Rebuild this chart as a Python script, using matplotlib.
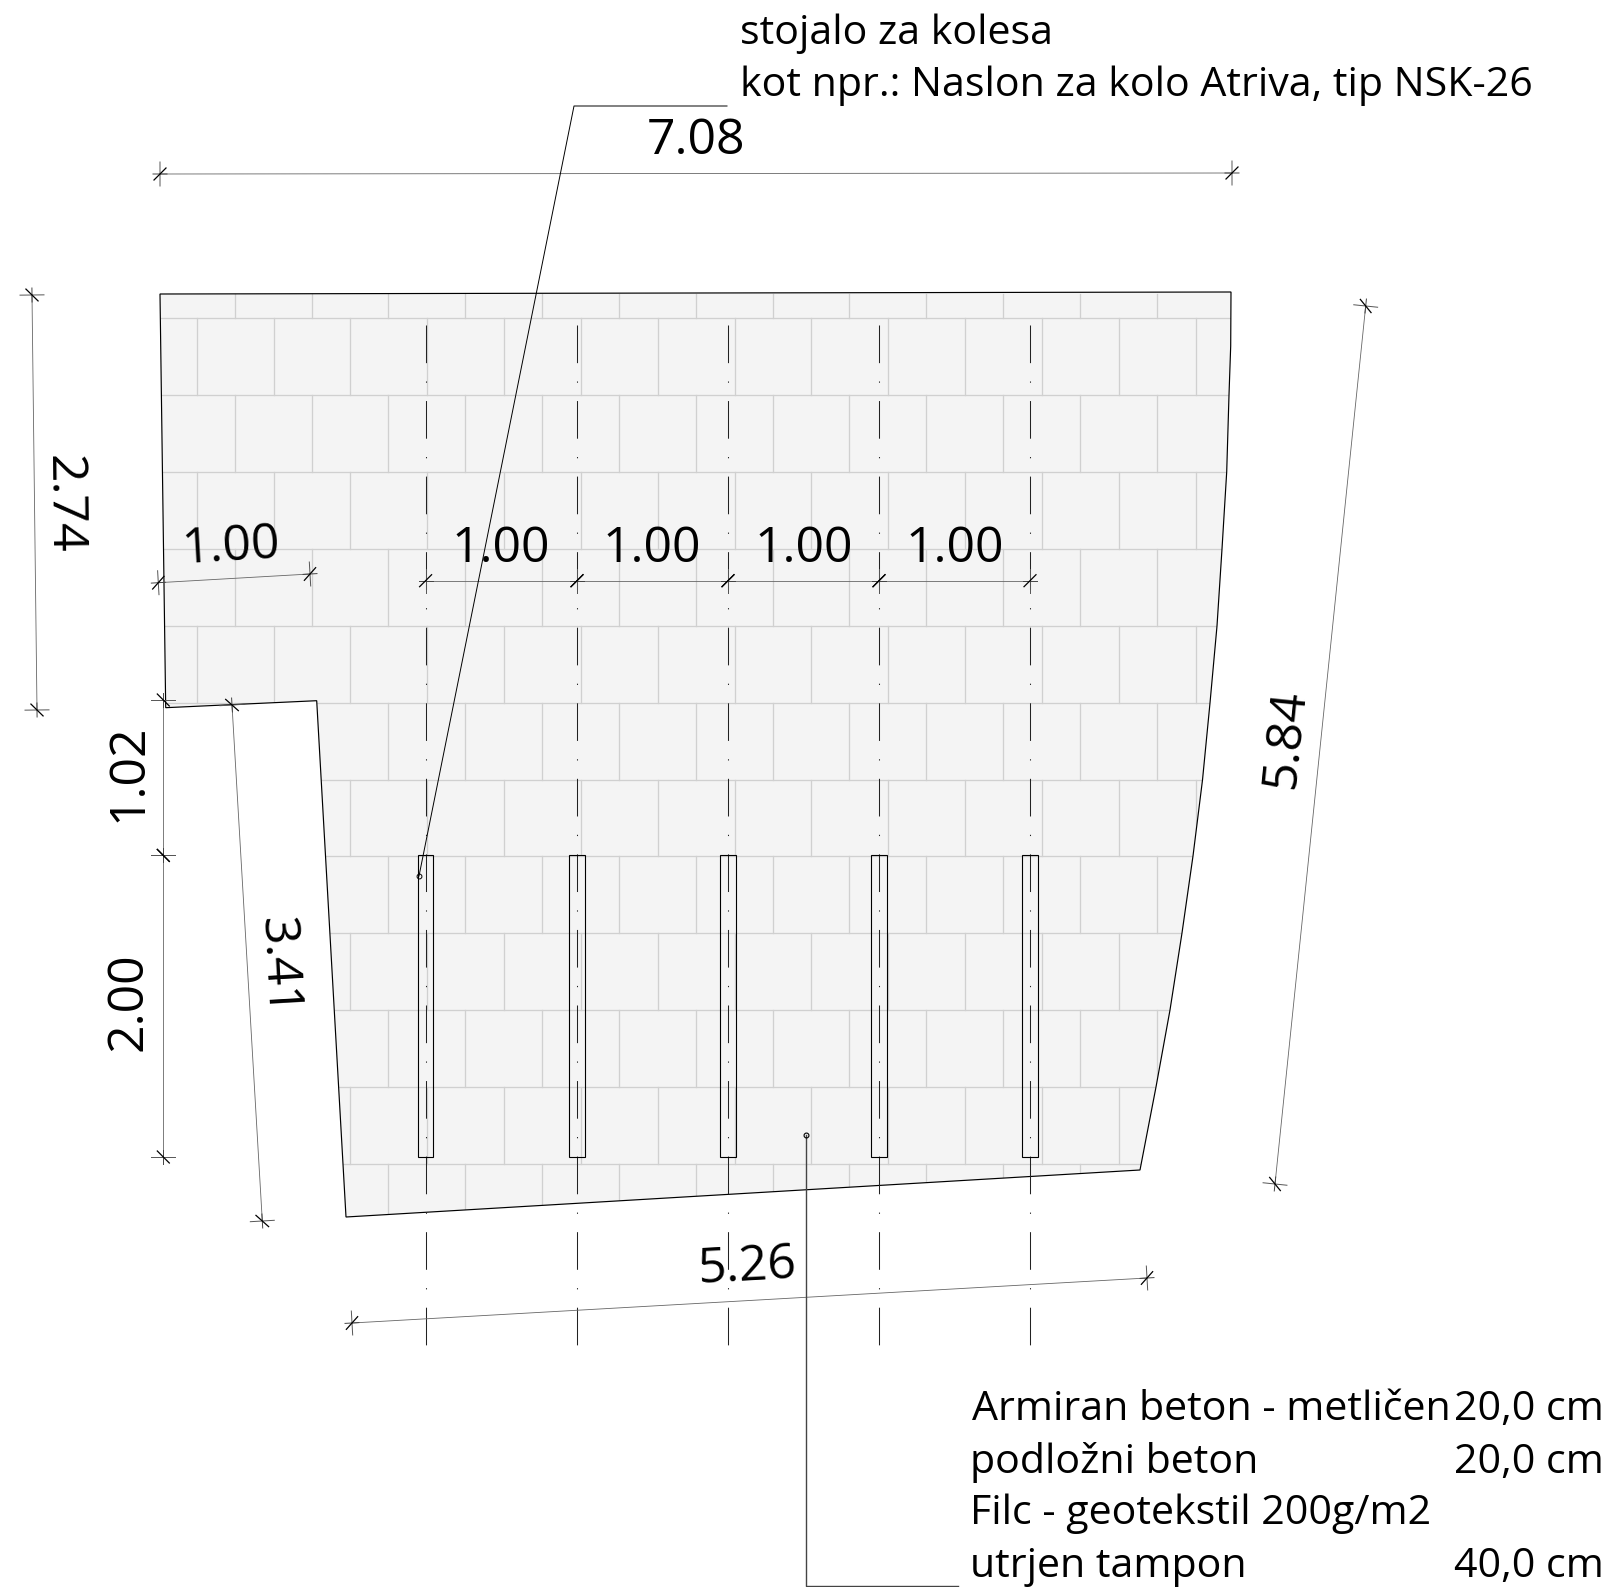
import math
import matplotlib
matplotlib.use('Agg')
import matplotlib.pyplot as plt
from matplotlib.patches import Polygon, Rectangle

plt.rcParams['font.family'] = ['Open Sans', 'DejaVu Sans']
plt.rcParams['lines.scale_dashes'] = False

# drawing data, in picture pixels
outline_x = [160, 1231, 1230.7, 1229, 1226.7, 1222, 1217, 1210, 1202.5, 1193, 1182, 1170, 1156, 1140, 346, 316.7, 165.7]
outline_y = [294, 292, 346, 395, 472, 549, 626, 703, 780, 856, 933, 1010, 1087, 1170, 1217, 700.7, 707.7]

course_y = [294, 318, 395, 472, 549, 626, 703, 780, 856, 933, 1010, 1087, 1164, 1218]
joints_a = [235, 312, 388, 465, 542, 619, 696, 773, 849, 926, 1003, 1080, 1157]
joints_b = [197, 274, 350, 427, 504, 581, 658, 735, 811, 888, 965, 1042, 1119, 1196]

stand_x = [425.6, 577, 728, 879, 1030]
stand_top = 854.5
stand_bottom = 1157
stand_w = 15.2
axis_top = 325
axis_bottom = 1345

# dimension lines: x0, y0, x1, y1
dim_lines = [
    (160, 174, 1232, 173),
    (32, 295, 37, 710),
    (158.3, 582.7, 310, 574),
    (425.6, 580.7, 577, 580.7),
    (577, 580.7, 728, 580.7),
    (728, 580.7, 879, 580.7),
    (879, 580.7, 1030, 580.7),
    (163.3, 700, 163.3, 855.4),
    (163.3, 855.4, 163.3, 1157),
    (232, 705, 262.3, 1221),
    (1365.7, 306, 1275, 1184),
    (352, 1323, 1147, 1278),
]

# dimension texts: label, x, y, rotation
dim_labels = [
    ('7.08', 696, 141, 0),
    ('2.74', 63, 504, -89.3),
    ('1.00', 231, 547, 3.3),
    ('1.00', 501, 549, 0),
    ('1.00', 652, 549, 0),
    ('1.00', 804, 549, 0),
    ('1.00', 955, 549, 0),
    ('1.02', 129, 773, 90),
    ('2.00', 129, 1002, 90),
    ('3.41', 277, 967, -86.7),
    ('5.84', 1286, 738, 84.1),
    ('5.26', 747, 1268, 3.2),
]

leader1_x = [419, 574, 727]
leader1_y = [876, 106, 106]
leader2_x = [806, 806, 958]
leader2_y = [1135, 1586, 1586]

note_top = ['stojalo za kolesa', 'kot npr.: Naslon za kolo Atriva, tip NSK-26']
note_top_y = [44, 96]
layers = ['Armiran beton - metličen', 'podložni beton', 'Filc - geotekstil 200g/m2', 'utrjen tampon']
layer_x = [972, 970, 970, 970]
layer_y = [1420, 1473, 1524, 1577]
thickness = ['20,0 cm', '20,0 cm', '', '40,0 cm']

W, H = 1612, 1587
fig = plt.figure(figsize=(W / 100, H / 100), dpi=100)
ax = fig.add_axes([0, 0, 1, 1])
ax.set_xlim(0, W)
ax.set_ylim(H, 0)
ax.axis('off')


def dim_tick(x, y, ux, uy):
    nx, ny = uy, -ux
    ax.plot([x - 12 * nx, x + 12 * nx], [y - 12 * ny, y + 12 * ny], color='#555555', lw=0.7, zorder=5)
    ax.plot([x - 7 * ux, x + 7 * ux], [y - 7 * uy, y + 7 * uy], color='#444444', lw=0.7, zorder=5)
    ax.plot([x - 6 * (ux + nx), x + 6 * (ux + nx)], [y - 6 * (uy + ny), y + 6 * (uy + ny)], color='black', lw=0.9, zorder=6)


def dimension(x0, y0, x1, y1):
    ln = math.hypot(x1 - x0, y1 - y0)
    ux, uy = (x1 - x0) / ln, (y1 - y0) / ln
    ax.plot([x0, x1], [y0, y1], color='#666666', lw=0.6, zorder=5)
    dim_tick(x0, y0, ux, uy)
    dim_tick(x1, y1, ux, uy)


# paved surface
slab = Polygon(list(zip(outline_x, outline_y)), closed=True, facecolor='#f4f4f4', edgecolor='none', zorder=1)
ax.add_patch(slab)

# paving joints
for i in range(len(course_y) - 1):
    joints = joints_a if i % 2 == 0 else joints_b
    for jx in joints:
        ln, = ax.plot([jx, jx], [course_y[i], course_y[i + 1]], color='#d0d0d0', lw=0.95, zorder=2)
        ln.set_clip_path(slab)
    if i > 0:
        ln, = ax.plot([150, 1240], [course_y[i], course_y[i]], color='#d0d0d0', lw=0.95, zorder=2)
        ln.set_clip_path(slab)

ax.add_patch(Polygon(list(zip(outline_x, outline_y)), closed=True, facecolor='none', edgecolor='black', lw=0.85, zorder=3))

# bike stands and their axes
for sx in stand_x:
    ax.plot([sx, sx], [axis_top, axis_bottom], color='#222222', lw=0.75, zorder=4,
            linestyle=(0, (27.1, 13.2, 0.9, 13.2)), dash_capstyle='butt')
    ax.add_patch(Rectangle((sx - stand_w / 2, stand_top), stand_w, stand_bottom - stand_top,
                           facecolor='none', edgecolor='black', lw=0.8, zorder=4))

for d in dim_lines:
    dimension(*d)

for label, x, y, rot in dim_labels:
    ax.text(x, y, label, fontsize=36, color='black', ha='center', va='center',
            rotation=rot, rotation_mode='anchor', zorder=7)

# leaders
ax.plot(leader1_x, leader1_y, color='black', lw=0.7, zorder=6)
ax.plot(leader1_x[0], leader1_y[0], 'o', mfc='none', mec='black', ms=3.5, mew=0.7, zorder=6)
ax.plot(leader2_x, leader2_y, color='#444444', lw=1.0, zorder=6)
ax.plot(leader2_x[0], leader2_y[0], 'o', mfc='none', mec='black', ms=3.5, mew=0.8, zorder=6)

for txt, y in zip(note_top, note_top_y):
    ax.text(740, y, txt, fontsize=29.6, color='black', ha='left', va='baseline', zorder=7)

for txt, x, y, th in zip(layers, layer_x, layer_y, thickness):
    ax.text(x, y, txt, fontsize=29.6, color='black', ha='left', va='baseline', zorder=7)
    if th:
        ax.text(1454, y, th, fontsize=29.6, color='black', ha='left', va='baseline', zorder=7)

fig.savefig('out.png', dpi=100, facecolor='white')
